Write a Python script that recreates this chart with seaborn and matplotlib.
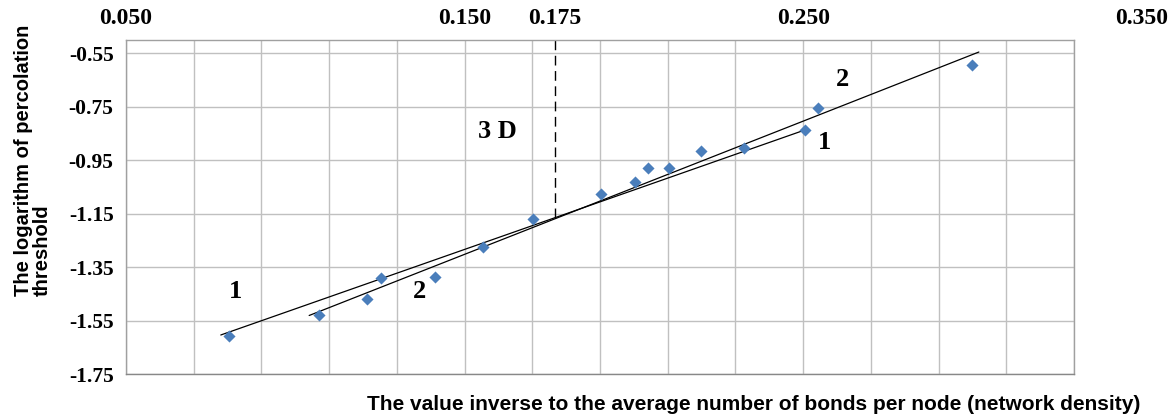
import numpy as np
import pandas as pd
import matplotlib
matplotlib.use("Agg")
import matplotlib.pyplot as plt
import matplotlib.transforms as mtransforms
import seaborn as sns

# ---- data ----
x_vals = [0.0803, 0.1070, 0.1212, 0.1252, 0.1414, 0.1553, 0.1701, 0.1902,
          0.2002, 0.2042, 0.2104, 0.2198, 0.2324, 0.2506, 0.2545, 0.2998]
y_vals = [-1.609, -1.529, -1.471, -1.389, -1.386, -1.274, -1.170, -1.078,
          -1.031, -0.979, -0.979, -0.916, -0.905, -0.837, -0.755, -0.595]

fit1_x = [0.0780, 0.2500]
fit1_y = [-1.604, -0.839]
fit2_x = [0.1041, 0.3019]
fit2_y = [-1.531, -0.545]

dashed_x = [0.1767, 0.1767]
dashed_y = [-0.50, -1.165]

top_labels = ["0.050", "0.150", "0.175", "0.250", "0.350"]
top_label_x = [0.050, 0.150, 0.1767, 0.250, 0.350]

y_ticks = [-1.75, -1.55, -1.35, -1.15, -0.95, -0.75, -0.55]
x_grid = [0.05 + 0.02 * i for i in range(15)]

annotations = [("1", 0.0823, -1.440), ("2", 0.1367, -1.440),
               ("1", 0.2563, -0.882), ("2", 0.2615, -0.647),
               ("3 D", 0.1597, -0.841)]

df = pd.DataFrame({"x": x_vals, "y": y_vals})

# ---- figure ----
sns.set_theme(style="white")
plt.rcParams["text.color"] = "black"
plt.rcParams["ytick.color"] = "black"
plt.rcParams["ytick.labelcolor"] = "black"
fig = plt.figure(figsize=(11.72, 4.19), dpi=100)
ax = fig.add_axes([126 / 1172, 45 / 419, 948 / 1172, 334 / 419])

ax.set_xlim(0.05, 0.33)
ax.set_ylim(-1.75, -0.50)
ax.set_xticks(x_grid)
ax.set_yticks(y_ticks)
ax.grid(True, color="#c0c0c0", linewidth=1.0)
ax.set_axisbelow(True)
ax.tick_params(axis="x", length=0, labelbottom=False)
ax.tick_params(axis="y", length=0, pad=9, labelcolor="black")
ax.set_yticklabels([f"{v:.2f}" for v in y_ticks],
                   fontfamily="Liberation Serif", fontweight="bold", fontsize=15.5,
                   color="black")
for s in ax.spines.values():
    s.set_color("#a0a0a0")
    s.set_linewidth(1.0)
ax.spines["bottom"].set_color("#888888")

# fit lines
sns.lineplot(x=fit1_x, y=fit1_y, ax=ax, color="black", linewidth=0.9)
sns.lineplot(x=fit2_x, y=fit2_y, ax=ax, color="black", linewidth=0.9)
ax.plot(dashed_x, dashed_y, color="black", linewidth=1.0, linestyle=(0, (7, 4)))

# points
sns.scatterplot(data=df, x="x", y="y", ax=ax, marker="D", s=38,
                color="#4A7EBB", edgecolor="#4A7EBB", linewidth=0, zorder=5)
ax.set_xlabel("")
ax.set_ylabel("")

# annotations
for txt, xv, yv in annotations:
    ax.text(xv, yv, txt, fontfamily="Liberation Serif", fontweight="bold",
            fontsize=19, ha="center", va="center", color="black")

# top labels
trans = mtransforms.blended_transform_factory(ax.transData, fig.transFigure)
for lab, xv in zip(top_labels, top_label_x):
    ax.text(xv, 1 - 18 / 419, lab, transform=trans, fontfamily="Liberation Serif",
            fontweight="bold", fontsize=17, ha="center", va="center",
            clip_on=False, color="black")

# axis titles
fig.text(33 / 1172, 1 - 296 / 419, "The logarithm of percolation\nthreshold",
         rotation=90, multialignment="left", ha="center", va="bottom",
         fontfamily=["Liberation Sans", "DejaVu Sans"], fontweight="bold",
         fontsize=14.5, linespacing=1.0, color="black")
fig.text(1140 / 1172, 1 - 404 / 419,
         "The value inverse to the average number of bonds per node (network density)",
         ha="right", va="center",
         fontfamily=["Liberation Sans", "DejaVu Sans"],
         fontweight="bold", fontsize=15, color="black")

fig.savefig("out.png", dpi=100)
